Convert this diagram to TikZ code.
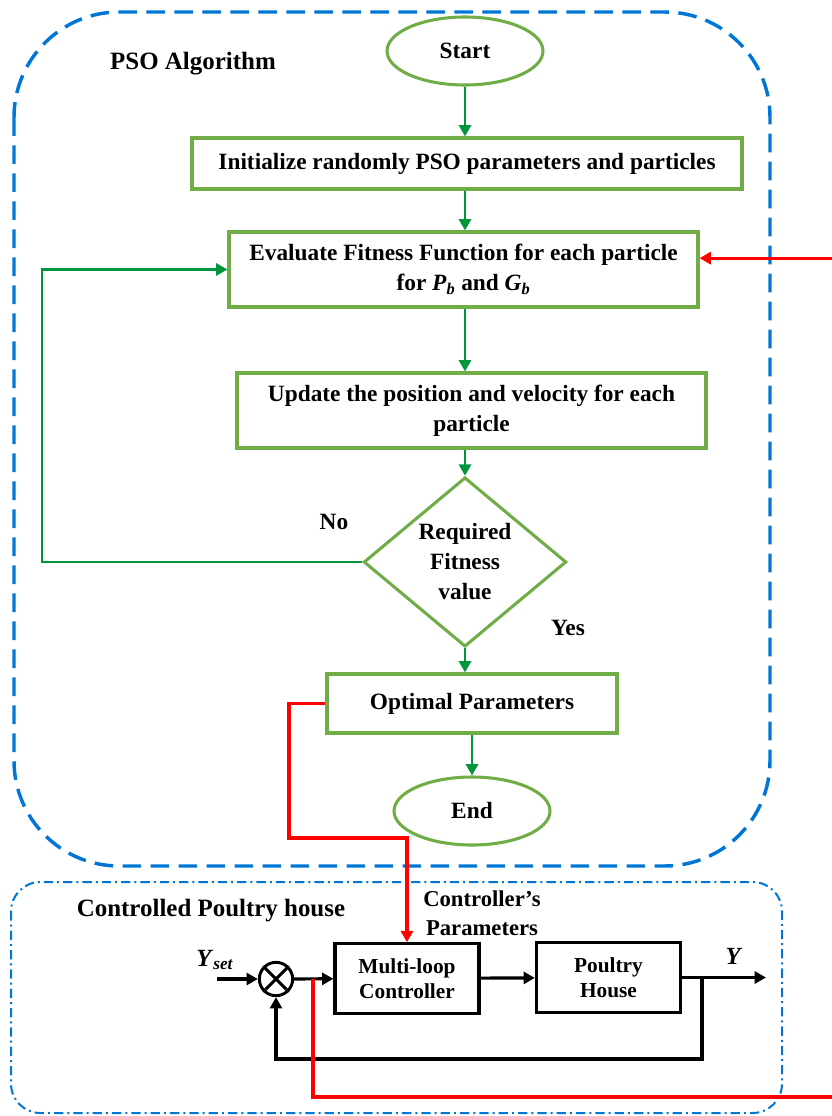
\documentclass[tikz,border=0pt]{standalone}
\usepackage{fontspec}
\setmainfont{Liberation Serif}
\usetikzlibrary{shapes.geometric,arrows.meta}

\definecolor{boxgreen}{RGB}{112,173,71}
\definecolor{arrgreen}{RGB}{0,150,60}
\definecolor{frameblue}{RGB}{0,118,214}

\begin{document}
\begin{tikzpicture}[x=0.75pt,y=-0.75pt,
	every node/.style={font=\fontsize{17.5}{22.5}\selectfont\bfseries,align=center},
	box/.style={draw=boxgreen,line width=2.3pt,inner sep=2pt},
	oval/.style={draw=boxgreen,line width=2.3pt,ellipse,minimum width=117pt,minimum height=51pt},
	dec/.style={draw=boxgreen,line width=2.3pt,diamond,inner sep=0pt,minimum width=152pt,minimum height=112.5pt},
	blk/.style={draw,line width=2.4pt,minimum width=108pt,minimum height=52pt,font=\fontsize{16}{19}\selectfont\bfseries},
	sum/.style={draw,line width=2.2pt,circle,minimum size=25pt,inner sep=0pt},
	title/.style={font=\fontsize{18.7}{22}\selectfont\bfseries},
	garr/.style={draw=arrgreen,line width=2.2pt,-{Triangle[length=8.5pt,width=9pt]}},
	barr/.style={draw,line width=2.4pt,-{Triangle[length=8.5pt,width=9pt]}},
	rarr/.style={draw=red,line width=2.3pt,-{Triangle[length=8.5pt,width=9pt]}}]

	\useasboundingbox (0,0) rectangle (831,1116);

	% frames
	\draw [frameblue,line width=2.6pt,dash pattern=on 14pt off 7pt,rounded corners=79pt]
	   (14,12) rectangle (770,866);
	\draw [frameblue,line width=1.5pt,dash pattern=on 7pt off 3pt on 1.5pt off 3pt,rounded corners=22pt]
	   (11,882) rectangle (782,1113);
	\node[title] (pso) at (193,64) {PSO Algorithm};
	\node[title] (plant) at (211,911) {Controlled Poultry house};

	% PSO flow
	\node[oval] (start) at (465,51) {Start};
	\node[box,minimum width=412.5pt,minimum height=38.25pt] (init) at (467,163.5)
	   {Initialize randomly PSO parameters and particles};
	\node[box,minimum width=351.75pt,minimum height=56.25pt] (eval) at (463.5,269.5)
	   {Evaluate Fitness Function for each particle\\for \textit{P}\textsubscript{\textit{b}} and \textit{G}\textsubscript{\textit{b}}};
	\node[box,minimum width=351.75pt,minimum height=56.25pt] (upd) at (471.5,410.5)
	   {Update the position and velocity for each\\particle};
	\node[dec] (fit) at (465,562) {Required\\Fitness\\value};
	\node[box,minimum width=217.5pt,minimum height=44.25pt] (opt) at (472,703.5) {Optimal Parameters};
	\node[oval] (end) at (472,811) {End};
	\node (no) at (334,522) {No};
	\node (yes) at (568,628) {Yes};

	\draw[garr] (start) -- (init.north -| start);
	\draw[garr] (init.south -| start) -- (eval.north -| start);
	\draw[garr] (eval.south -| start) -- (upd.north -| start);
	\draw[garr] (upd.south -| start) -- (fit);
	\draw[garr] (fit) -- (opt.north -| fit);
	\draw[garr] (opt) -- (end);
	\coordinate (loop) at (42,562);
	\draw[garr] (fit.west) -- (loop) |- (eval.west);

	% control loop
	\node[sum] (sum) at (276,979) {};
	\draw[line width=2.2pt] (sum.north west) -- (sum.south east) (sum.north east) -- (sum.south west);
	\node[blk] (ctrl) at (407,978.5) {Multi-loop\\Controller};
	\node[blk] (house) at (608.5,977.5) {Poultry\\House};
	\node[font=\fontsize{17}{21.75}\selectfont\bfseries] (cpar) at (482,913) {Controller’s\\Parameters};
	\node[font=\fontsize{18.5}{20}\selectfont\bfseries] (yset) at (215,960) {\textit{Y}\textsubscript{\textit{set}}};
	\node[font=\fontsize{18.5}{20}\selectfont\bfseries] (y) at (734,956) {\textit{Y}};

	\coordinate (in) at (217,979);
	\coordinate (out) at (766,977.5);
	\coordinate (br) at (702,977.5);
	\coordinate (fb) at (702,1059);
	\draw[barr] (in) -- (sum);
	\draw[barr] (sum) -- (ctrl);
	\draw[barr] (ctrl) -- (house);
	\draw[barr] (house) -- (out);
	\draw[barr] (br) -- (fb) -| (sum);

	% parameter links
	\coordinate (bend) at (289,838);
	\draw[rarr] (opt.west) -| (bend) -| (ctrl.north);
	\coordinate (tap) at (313,979);
	\coordinate (far) at (845,1097);
	\draw[rarr] (tap) |- (far) |- ([yshift=8.5pt]eval.east);
\end{tikzpicture}
\end{document}
